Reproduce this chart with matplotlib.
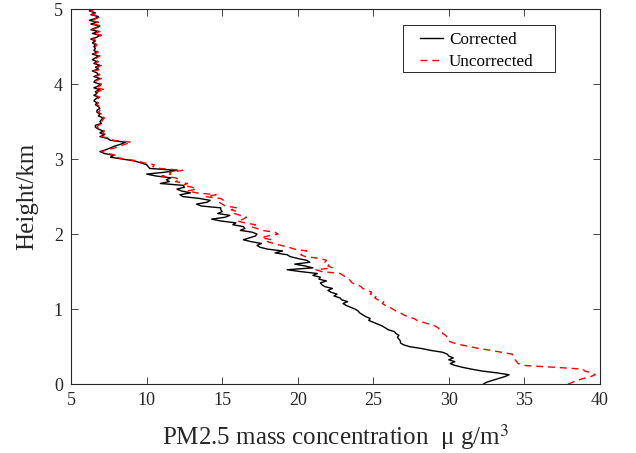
import numpy as np
import matplotlib
matplotlib.use('Agg')
import matplotlib.pyplot as plt
from matplotlib.patches import Rectangle

# height grid (km), 0.025 km steps
height = np.round(np.arange(0, 5.0001, 0.025), 3)

corrected = [
    32.3, 32.5, 32.9, 33.3, 33.7, 34.0, 33.2, 32.2, 31.5, 30.9,
    30.4, 30.1, 30.4, 30.0, 30.3, 30.0, 29.9, 29.6, 28.8, 28.2,
    27.4, 27.0, 26.8, 26.8, 26.7, 26.6, 26.7, 26.5, 26.4, 26.0,
    25.8, 25.6, 25.3, 25.0, 24.7, 24.8, 24.5, 24.3, 24.1, 24.0,
    23.8, 23.5, 23.2, 23.0, 23.3, 22.9, 22.8, 22.4, 22.6, 22.2,
    22.0, 22.3, 21.8, 21.6, 21.5, 21.9, 21.4, 21.5, 21.0, 21.3,
    20.2, 19.3, 21.0, 20.5, 19.8, 20.8, 20.6, 20.0, 19.5, 19.3,
    18.5, 19.0, 18.0, 17.5, 17.3, 17.6, 16.9, 16.4, 16.8, 17.2,
    17.3, 17.0, 16.2, 16.5, 16.4, 15.7, 15.9, 14.9, 14.3, 15.2,
    15.5, 14.7, 15.0, 14.9, 14.9, 13.6, 13.3, 14.0, 14.2, 13.5,
    12.4, 12.2, 12.9, 12.3, 12.0, 12.5, 12.4, 10.9, 11.5, 11.3,
    11.6, 10.6, 10.0, 11.2, 12.0, 10.2, 10.1, 10.0, 9.6, 9.2,
    8.4, 7.6, 7.8, 7.2, 6.9, 7.3, 7.6, 7.9, 8.3, 8.6,
    7.6, 7.4, 6.9, 7.2, 6.9, 7.1, 6.8, 6.6, 6.6, 7.0,
    6.9, 7.0, 7.1, 6.8, 6.9, 6.7, 6.7, 6.9, 6.8, 6.6,
    6.7, 6.5, 6.6, 6.8, 6.5, 6.7, 6.6, 6.9, 6.5, 6.8,
    6.9, 6.5, 6.6, 6.9, 6.5, 6.8, 6.7, 6.4, 6.8, 6.6,
    6.9, 6.5, 6.7, 6.4, 6.6, 6.8, 6.4, 6.7, 6.5, 6.6,
    6.5, 6.6, 6.4, 6.6, 6.3, 6.7, 6.9, 6.4, 6.8, 6.3,
    6.6, 6.9, 6.3, 6.7, 6.2, 6.6, 6.8, 6.3, 6.6, 6.2,
    6.4,
]

uncorrected = [
    37.9, 38.2, 38.5, 38.9, 39.4, 39.7, 39.5, 39.0, 38.9, 37.0,
    34.9, 34.6, 34.5, 34.4, 34.4, 34.3, 34.2, 33.5, 32.8, 32.0,
    31.4, 30.8, 30.3, 30.0, 30.0, 29.9, 29.8, 29.6, 29.6, 29.4,
    29.3, 29.1, 28.7, 28.3, 27.9, 27.7, 27.3, 27.0, 26.8, 26.5,
    26.3, 26.1, 25.8, 25.6, 25.7, 25.3, 25.1, 25.2, 24.8, 24.9,
    24.6, 24.3, 24.2, 23.9, 23.6, 23.5, 23.4, 23.2, 23.0, 22.8,
    21.6, 21.2, 22.3, 22.0, 22.1, 21.8, 21.9, 21.5, 20.5, 20.2,
    20.4, 20.6, 19.8, 19.4, 18.9, 18.4, 18.0, 18.3, 17.6, 18.0,
    18.7, 18.5, 17.6, 17.3, 16.9, 17.2, 16.5, 16.0, 16.4, 16.6,
    16.2, 15.8, 16.0, 15.6, 16.0, 15.2, 15.0, 14.8, 15.1, 14.9,
    13.9, 14.6, 13.3, 12.7, 13.3, 13.0, 12.4, 12.7, 11.9, 12.2,
    11.9, 11.0, 11.6, 11.5, 12.4, 10.9, 10.4, 10.5, 9.8, 9.4,
    8.6, 7.9, 8.0, 7.4, 7.0, 7.4, 7.9, 8.2, 8.6, 9.0,
    7.8, 7.6, 7.0, 7.3, 7.1, 7.2, 6.9, 6.7, 6.8, 7.1,
    7.0, 7.1, 7.2, 6.9, 7.0, 6.8, 6.9, 7.0, 6.9, 6.7,
    6.8, 6.6, 6.7, 6.9, 6.6, 6.8, 6.7, 7.25, 6.6, 6.9,
    7.0, 6.6, 6.7, 7.0, 6.6, 6.9, 6.8, 6.5, 7.0, 6.7,
    7.0, 6.6, 6.8, 6.5, 6.7, 6.9, 6.5, 6.8, 6.6, 6.7,
    6.6, 6.7, 6.5, 6.7, 6.4, 6.8, 7.0, 6.5, 6.9, 6.4,
    6.7, 7.0, 6.4, 6.8, 6.3, 6.7, 6.9, 6.4, 6.7, 6.3,
    6.5,
]

xticks = [5, 10, 15, 20, 25, 30, 35, 40]
yticks = [0, 1, 2, 3, 4, 5]

plt.rcParams['font.family'] = ['Liberation Serif', 'DejaVu Serif']
plt.rcParams['mathtext.fontset'] = 'stix'
dark = '#262626'

fig = plt.figure(figsize=(6.36, 4.53), dpi=100)
ax = fig.add_axes([0.112, 0.152, 0.831, 0.828])
ax.plot(corrected, height, color='black', lw=1.0, label='Corrected')
ax.plot(uncorrected, height, color='red', lw=1.0, ls=(0, (5, 3.5)), label='Uncorrected')

ax.set_xlim(5, 40)
ax.set_ylim(0, 5)
ax.set_xticks(xticks)
ax.set_yticks(yticks)
ax.tick_params(direction='in', top=True, right=True, length=5, width=0.6,
               colors=dark, labelsize=13, pad=6)
for s in ax.spines.values():
    s.set_color(dark)
    s.set_linewidth(0.8)

ax.set_xlabel('PM2.5 mass concentration  μ g/m$^{3}$', fontsize=18, color=dark, labelpad=9)
ax.set_ylabel('Height/km', fontsize=18, color=dark, labelpad=11)

# legend frame drawn by hand (MATLAB-style padding)
ax.add_patch(Rectangle((0.6276, 0.832), 0.2874, 0.125, transform=ax.transAxes,
                       facecolor='white', edgecolor=dark, lw=0.7, zorder=4))
leg = ax.legend(loc='center left', bbox_to_anchor=(0.6597, 0.889), borderaxespad=0,
                borderpad=0, fontsize=12.3, handlelength=1.35, handletextpad=0.35,
                labelspacing=0.35, frameon=False)
leg.set_zorder(5)

fig.savefig('out.png', dpi=100)
